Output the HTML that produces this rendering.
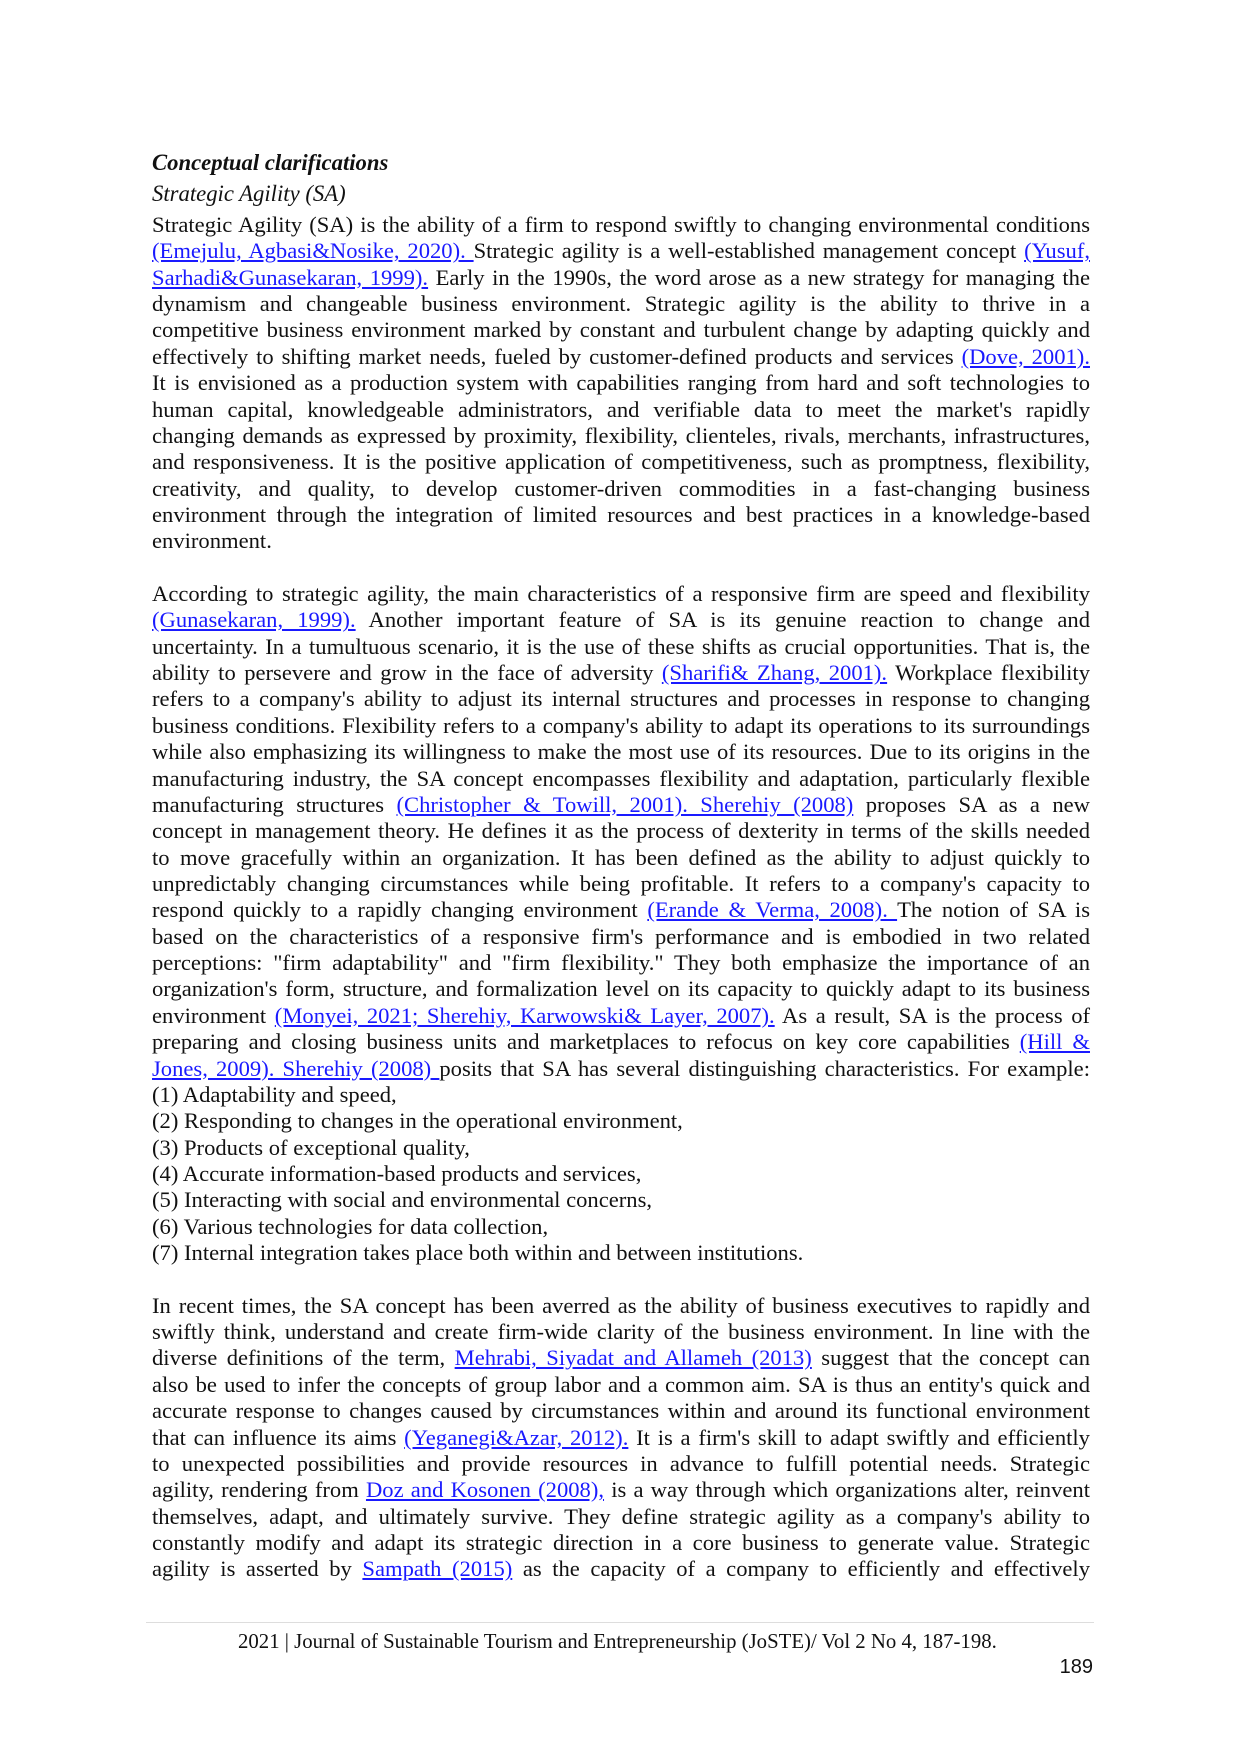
<!DOCTYPE html>
<html><head><meta charset="utf-8"><style>
html,body{margin:0;padding:0;background:#fff;}
body{width:1240px;height:1754px;position:relative;overflow:hidden;font-family:"Liberation Serif",serif;color:#111;}
.blk{position:absolute;left:152px;width:938px;font-size:22.6px;line-height:26.36px;}
.j{text-align:justify;text-align-last:justify;white-space:nowrap;height:26.36px;}
.l{white-space:nowrap;height:26.36px;}
a{color:#1a1aff;text-decoration:underline;}
.h{position:absolute;left:152px;font-size:22.7px;white-space:nowrap;}
</style></head><body>
<div class="h" style="top:150px;font-weight:bold;font-style:italic;">Conceptual clarifications</div>
<div class="h" style="top:181px;font-style:italic;">Strategic Agility (SA)</div>
<div class="blk" style="top:212px;">
<div class="j">Strategic Agility (SA) is the ability of a firm to respond swiftly to changing environmental conditions</div>
<div class="j"><a>(Emejulu, Agbasi&amp;Nosike, 2020). </a>Strategic agility is a well-established management concept <a>(Yusuf,</a></div>
<div class="j"><a>Sarhadi&amp;Gunasekaran, 1999).</a> Early in the 1990s, the word arose as a new strategy for managing the</div>
<div class="j">dynamism and changeable business environment. Strategic agility is the ability to thrive in a</div>
<div class="j">competitive business environment marked by constant and turbulent change by adapting quickly and</div>
<div class="j">effectively to shifting market needs, fueled by customer-defined products and services <a>(Dove, 2001).</a></div>
<div class="j">It is envisioned as a production system with capabilities ranging from hard and soft technologies to</div>
<div class="j">human capital, knowledgeable administrators, and verifiable data to meet the market's rapidly</div>
<div class="j">changing demands as expressed by proximity, flexibility, clienteles, rivals, merchants, infrastructures,</div>
<div class="j">and responsiveness. It is the positive application of competitiveness, such as promptness, flexibility,</div>
<div class="j">creativity, and quality, to develop customer-driven commodities in a fast-changing business</div>
<div class="j">environment through the integration of limited resources and best practices in a knowledge-based</div>
<div class="l">environment.</div>
<div class="l"></div>
<div class="j">According to strategic agility, the main characteristics of a responsive firm are speed and flexibility</div>
<div class="j"><a>(Gunasekaran, 1999).</a> Another important feature of SA is its genuine reaction to change and</div>
<div class="j">uncertainty. In a tumultuous scenario, it is the use of these shifts as crucial opportunities. That is, the</div>
<div class="j">ability to persevere and grow in the face of adversity <a>(Sharifi&amp; Zhang, 2001).</a> Workplace flexibility</div>
<div class="j">refers to a company's ability to adjust its internal structures and processes in response to changing</div>
<div class="j">business conditions. Flexibility refers to a company's ability to adapt its operations to its surroundings</div>
<div class="j">while also emphasizing its willingness to make the most use of its resources. Due to its origins in the</div>
<div class="j">manufacturing industry, the SA concept encompasses flexibility and adaptation, particularly flexible</div>
<div class="j">manufacturing structures <a>(Christopher &amp; Towill, 2001). Sherehiy (2008)</a> proposes SA as a new</div>
<div class="j">concept in management theory. He defines it as the process of dexterity in terms of the skills needed</div>
<div class="j">to move gracefully within an organization. It has been defined as the ability to adjust quickly to</div>
<div class="j">unpredictably changing circumstances while being profitable. It refers to a company's capacity to</div>
<div class="j">respond quickly to a rapidly changing environment <a>(Erande &amp; Verma, 2008). </a>The notion of SA is</div>
<div class="j">based on the characteristics of a responsive firm's performance and is embodied in two related</div>
<div class="j">perceptions: "firm adaptability" and "firm flexibility." They both emphasize the importance of an</div>
<div class="j">organization's form, structure, and formalization level on its capacity to quickly adapt to its business</div>
<div class="j">environment <a>(Monyei, 2021; Sherehiy, Karwowski&amp; Layer, 2007).</a> As a result, SA is the process of</div>
<div class="j">preparing and closing business units and marketplaces to refocus on key core capabilities <a>(Hill &amp;</a></div>
<div class="j"><a>Jones, 2009). Sherehiy (2008) </a>posits that SA has several distinguishing characteristics. For example:</div>
<div class="l">(1) Adaptability and speed,</div>
<div class="l">(2) Responding to changes in the operational environment,</div>
<div class="l">(3) Products of exceptional quality,</div>
<div class="l">(4) Accurate information-based products and services,</div>
<div class="l">(5) Interacting with social and environmental concerns,</div>
<div class="l">(6) Various technologies for data collection,</div>
<div class="l">(7) Internal integration takes place both within and between institutions.</div>
<div class="l"></div>
<div class="j">In recent times, the SA concept has been averred as the ability of business executives to rapidly and</div>
<div class="j">swiftly think, understand and create firm-wide clarity of the business environment. In line with the</div>
<div class="j">diverse definitions of the term, <a>Mehrabi, Siyadat and Allameh (2013)</a> suggest that the concept can</div>
<div class="j">also be used to infer the concepts of group labor and a common aim. SA is thus an entity's quick and</div>
<div class="j">accurate response to changes caused by circumstances within and around its functional environment</div>
<div class="j">that can influence its aims <a>(Yeganegi&amp;Azar, 2012).</a> It is a firm's skill to adapt swiftly and efficiently</div>
<div class="j">to unexpected possibilities and provide resources in advance to fulfill potential needs. Strategic</div>
<div class="j">agility, rendering from <a>Doz and Kosonen (2008),</a> is a way through which organizations alter, reinvent</div>
<div class="j">themselves, adapt, and ultimately survive. They define strategic agility as a company's ability to</div>
<div class="j">constantly modify and adapt its strategic direction in a core business to generate value. Strategic</div>
<div class="j">agility is asserted by <a>Sampath (2015)</a> as the capacity of a company to efficiently and effectively</div>
</div>
<div style="position:absolute;left:146px;top:1622px;width:948px;height:1px;background:#ddd;"></div>
<div style="position:absolute;left:200px;top:1630px;width:840px;font-size:20.8px;white-space:nowrap;text-align:left;padding-left:38px;">2021 | Journal of Sustainable Tourism and Entrepreneurship (JoSTE)/ Vol 2 No 4, 187-198.</div>
<div style="position:absolute;left:1036px;top:1656px;width:57px;font-family:'Liberation Sans',sans-serif;font-size:20px;text-align:right;">189</div>
</body></html>
